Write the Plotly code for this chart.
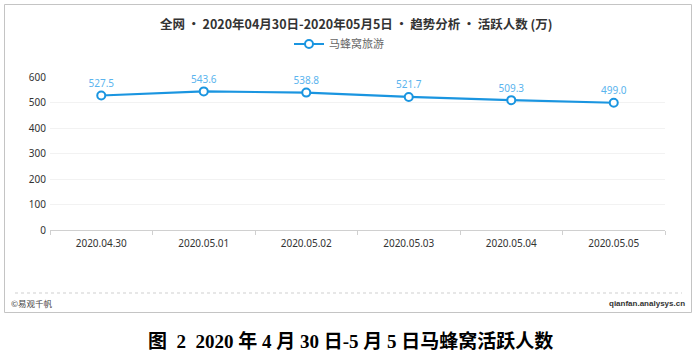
import plotly.graph_objects as go

categories = ["2020.04.30", "2020.05.01", "2020.05.02", "2020.05.03", "2020.05.04", "2020.05.05"]
values = [527.5, 543.6, 538.8, 521.7, 509.3, 499.0]
series_name = "马蜂窝旅游"
y_ticks = [0, 100, 200, 300, 400, 500, 600]

W, H = 700, 355
L, R, T, B = 50, 665, 77, 230  # plot area in pixels

def px(x):
    return (x - L) / (R - L)

def py(y):
    return (B - y) / (B - T)

fig = go.Figure()
fig.add_trace(go.Scatter(
    x=categories, y=values, name=series_name,
    mode="lines+markers+text",
    line=dict(color="#1a95e0", width=2.2),
    marker=dict(symbol="circle", size=8, color="white", line=dict(color="#1a95e0", width=2)),
    text=[f"{v:.1f}" for v in values],
    textposition="top center",
    textfont=dict(family="Noto Sans, Open Sans, sans-serif", size=10, color="#5ab4ee"),
    cliponaxis=False,
))

fig.update_layout(
    width=W, height=H,
    margin=dict(l=L, r=W - R, t=T, b=H - B, pad=0, autoexpand=False),
    paper_bgcolor="white", plot_bgcolor="white",
    showlegend=True,
    legend=dict(orientation="h", xref="container", yref="container",
                x=339 / W, xanchor="center", y=1 - 44 / H, yanchor="middle",
                font=dict(family="Noto Sans CJK SC, sans-serif", size=11, color="#666"),
                itemwidth=30, bgcolor="rgba(0,0,0,0)"),
    xaxis=dict(
        type="category", range=[-0.5, 5.5],
        showgrid=False, showline=True, linecolor="#d0d0d0", linewidth=1,
        ticks="outside", tickson="boundaries", ticklen=4, tickcolor="#d0d0d0",
        ticklabelstandoff=4,
        tickfont=dict(family="Noto Sans, Open Sans, sans-serif", size=10, color="#333"),
        fixedrange=True, automargin=False,
    ),
    yaxis=dict(
        range=[0, 600], tickvals=y_ticks, ticktext=[str(t) for t in y_ticks],
        showgrid=True, gridcolor="#f2f2f2", gridwidth=1,
        zeroline=False, showline=False, ticks="", ticklabelstandoff=3,
        tickfont=dict(family="Noto Sans, Open Sans, sans-serif", size=10, color="#333"),
        fixedrange=True, automargin=False,
    ),
    font=dict(family="Noto Sans CJK SC, sans-serif"),
)

shapes = [
    # outer border
    dict(type="rect", xref="paper", yref="paper", x0=px(4.5), x1=px(691.5), y0=py(4.5), y1=py(312.5),
         line=dict(color="#c4c4c4", width=1), fillcolor="rgba(0,0,0,0)", layer="above"),
    # footer dotted line
    dict(type="line", xref="paper", yref="paper", x0=px(15), x1=px(682), y0=py(293), y1=py(293),
         line=dict(color="#cfcfcf", width=1, dash="dot")),
]
fig.update_layout(shapes=shapes)

annotations = [
    dict(text="<b>全网\u2009•\u20092020年04月30日-2020年05月5日\u2009•\u2009趋势分析\u2009•\u2009活跃人数 (万)</b>",
         xref="paper", yref="paper", x=px(356), y=py(24), xanchor="center", yanchor="middle",
         showarrow=False, font=dict(family="Noto Sans CJK SC, sans-serif", size=12.5, color="#333")),
    dict(text="©易观千帆", xref="paper", yref="paper", x=px(9), y=py(303), xanchor="left", yanchor="middle",
         showarrow=False, font=dict(family="Noto Sans CJK SC, sans-serif", size=8.5, color="#444")),
    dict(text="<b>qianfan.analysys.cn</b>", xref="paper", yref="paper", x=px(687), y=py(303),
         xanchor="right", yanchor="middle",
         showarrow=False,
         font=dict(family="Liberation Sans, sans-serif", size=8, color="#333")),
    dict(text="<b>图\u00a0\u00a02\u00a0\u00a02020 年 4 月 30 日-5 月 5 日马蜂窝活跃人数</b>", xref="paper", yref="paper",
         x=px(350), y=py(341), xanchor="center", yanchor="middle", showarrow=False,
         font=dict(family="Liberation Serif, Noto Sans CJK SC, serif", size=19, color="#000")),
]
fig.update_layout(annotations=annotations)

# remove the browser's default 8px page margin so the figure sits at the top-left corner
fig.write_html("out.html", config={"displayModeBar": False},
               post_script="document.body.style.margin='0';")
